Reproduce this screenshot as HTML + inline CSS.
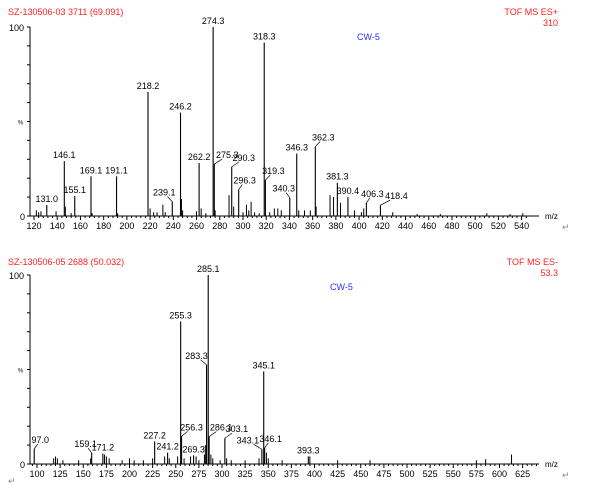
<!DOCTYPE html>
<html><head><meta charset="utf-8"><style>
html,body{margin:0;padding:0;background:#fff;}
svg{display:block;font-family:"Liberation Sans",Arial,sans-serif;}
</style></head><body>
<svg id="c" width="600" height="489" viewBox="0 0 600 489"></svg>
<script>
// Top spectrum (ES+)
const topLabelMz = [131.0,146.1,155.1,169.1,191.1,218.2,239.1,246.2,262.2,274.3,275.3,290.3,296.3,318.3,319.3,340.3,346.3,362.3,381.3,390.4,406.3,418.4];
const topLabelInt = [5.8,29,10.6,21,21,65.6,7.6,54.7,28,100,27.5,26,14,91.7,19,9.7,33,36.7,17.6,10,7,5.7];
const topMinorMz = [122,124,126,139,147,152,170,192,220,223,226,231,233,247,248,260,264,268,276,288,292,300,303,305,307,310,314,323,327,330,333,348,353,358,363,375,378,384,396,402,404,429,450,470,510,530,541];
const topMinorInt = [3,2,2.5,2.5,5,1.5,1.5,1.5,4,2,2,6,2,9,3,2.5,4,1.5,3,11,5,2,6,3,7.5,2,1.5,2,4,4,3,3,3,3,5,11,10,7,3,2,4,2,1,1,1.5,1,1.5];
const topTicks = [120,140,160,180,200,220,240,260,280,300,320,340,360,380,400,420,440,460,480,500,520,540];
// Bottom spectrum (ES-)
const botLabelMz = [97.0,159.1,171.2,227.2,241.2,255.3,256.3,269.3,283.3,285.1,286.1,303.1,343.1,345.1,346.1,393.3];
const botLabelInt = [8,5.8,5.5,12,6,75.4,14.6,4.6,52.5,100,14.5,13.7,7.8,49,8.5,4];
const botMinorMz = [118,120,122,128,145,158,173,175,178,192,200,205,215,225,238,243,252,259,266,272,275,281,282,288,290,298,305,310,325,340,348,350,365,395,425,460,575,585,613];
const botMinorInt = [3,4,3,2,2,3,5,4,3,2,3,2,2,3,4,3,4,3,4,4,2,5,10,5,3,2,3,2,2,3,6,3,2,4,2,2,2,2.5,5];
const botTicks = [100,125,150,175,200,225,250,275,300,325,350,375,400,425,450,475,500,525,550,575,600,625];

const labelDx = {239.1:-8,275.3:13,290.3:12,296.3:6,319.3:8,340.3:-6,362.3:8,406.3:6,418.4:16,256.3:10,286.1:12,303.1:12,343.1:-14,346.1:6,283.3:-10,159.1:-6,97.0:6,393.3:0};

const svg = document.getElementById('c');
const NS = 'http://www.w3.org/2000/svg';
function mk(tag, attrs, parent){const e=document.createElementNS(NS,tag);for(const k in attrs)e.setAttribute(k,attrs[k]);(parent||svg).appendChild(e);return e;}
function txt(s,x,y,size,fill,anchor,parent){const t=mk('text',{x:x,y:y,'font-size':size,fill:fill,'text-anchor':anchor||'start'},parent);t.textContent=s;return t;}

function panel(cfg){
  const g = mk('g',{});
  
  
  const X = m => cfg.x0 + (m - cfg.m0) * cfg.sx;
  const Y = v => cfg.y0 - v * cfg.h / 100;
  const ya = mk('line',{x1:30,y1:cfg.y0-cfg.h,x2:30,y2:cfg.y0,stroke:'#000','stroke-width':1},g);
   
  const xa = mk('line',{x1:30,y1:cfg.y0,x2:539,y2:cfg.y0,stroke:'#000','stroke-width':1},g);
   
  for(let v=0;v<=100;v+=10){mk('line',{x1:27,y1:Y(v),x2:30,y2:Y(v),stroke:'#000','stroke-width':1},g);}
  txt('100',9,Y(100)+4,9,'#000','start',g);
  txt('0',20,Y(0)+4,9,'#000','start',g);
  txt('%',18,Y(50)+3,6,'#000','start',g);
  const step = (cfg.ticks[1]-cfg.ticks[0])/5;
  for(let m=cfg.ticks[0]-step*2;m<=cfg.mMax;m+=step){
    if(X(m)<31||X(m)>539) continue;
    mk('line',{x1:X(m),y1:cfg.y0,x2:X(m),y2:cfg.y0+(Math.abs((m-cfg.ticks[0])%(step*5))<0.01?4:2),stroke:'#000','stroke-width':1},g);
  }
  cfg.ticks.forEach(t=>{const e=txt(String(t),X(t),cfg.y0+13,9,'#000','middle',g);});
  txt('m/z',545,cfg.y0+3,8,'#000','start',g);
  cfg.minMz.forEach((m,i)=>{const l=mk('line',{x1:X(m),y1:Y(0),x2:X(m),y2:Y(cfg.minInt[i]),stroke:'#000','stroke-width':1},g);});
  cfg.mz.forEach((m,i)=>{
    const x=X(m), y=Y(cfg.int[i]);
    const l=mk('line',{x1:x,y1:Y(0),x2:x,y2:y,stroke:'#000','stroke-width':1.1},g);
    
    
    const dx=labelDx[m]||0;
    if(dx!==0){mk('line',{x1:x,y1:y,x2:x+dx*0.6,y2:y-5,stroke:'#000','stroke-width':0.7},g);}
    const t=txt(m.toFixed(1),x+dx,y-(dx!==0?6:3),9,'#000','middle',g);
    
    
  });
  const h=txt(cfg.title,8,cfg.titleY,9,'#ff2020','start',g);
   
  const m1=txt(cfg.mode,558,cfg.titleY,9,'#ff2020','end',g);
   
  const m2=txt(cfg.modeVal,558,cfg.titleY+11,9,'#ff2020','end',g);
   
  const cw=txt('CW-5',cfg.cwX,cfg.titleY+25,9,'#3030ff','start',g);
   
}

panel({name:'top-spectrum',x0:34,m0:120,sx:1.161,mMax:545,y0:216,h:189,ticks:topTicks,mz:topLabelMz,int:topLabelInt,minMz:topMinorMz,minInt:topMinorInt,title:'SZ-130506-03 3711 (69.091)',mode:'TOF MS ES+',modeVal:'310',titleY:15,cwX:357});
panel({name:'bottom-spectrum',x0:37,m0:100,sx:0.925,mMax:650,y0:464,h:189,ticks:botTicks,mz:botLabelMz,int:botLabelInt,minMz:botMinorMz,minInt:botMinorInt,title:'SZ-130506-05 2688 (50.032)',mode:'TOF MS ES-',modeVal:'53.3',titleY:265,cwX:330});
txt('↵',562,230,9,'#888');
txt('↵',562,478,9,'#888');
txt('↵',8,484,9,'#888');
</script>
</body></html>
